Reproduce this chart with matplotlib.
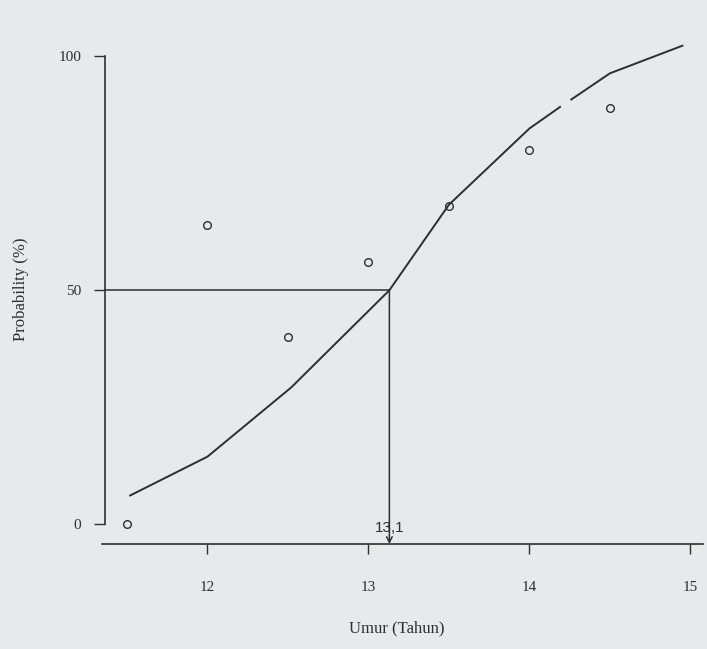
import matplotlib.pyplot as plt

# Observed points (age in years, probability %)
age = [11.5, 12.0, 12.5, 13.0, 13.5, 14.0, 14.5]
prob = [0, 64, 40, 56, 68, 80, 89]

# Fitted curve (drawn in two pieces, there is a gap)
curve_x1 = [11.52, 12.0, 12.52, 13.13, 13.5, 14.0, 14.19]
curve_y1 = [6.1, 14.4, 29.2, 50, 68.3, 84.6, 89.2]
curve_x2 = [14.26, 14.5, 14.95]
curve_y2 = [90.8, 96.4, 102.3]

age50 = 13.13
xticks = [12, 13, 14, 15]
yticks = [0, 50, 100]

paper = "#e8e9ed"
ink = "#2e2e2e"

fig = plt.figure(figsize=(7.07, 6.49), dpi=100, facecolor=paper)
ax = fig.add_axes([0.1443, 0.1618, 0.8505, 0.78])
ax.set_facecolor(paper)

ax.set_xlim(11.345, 15.08)
ax.set_ylim(-4.28, 104)

# curve and points
ax.plot(curve_x1, curve_y1, color=ink, lw=1.4, clip_on=False)
ax.plot(curve_x2, curve_y2, color=ink, lw=1.4, clip_on=False)
ax.plot(age, prob, "o", ms=5.5, mfc="none", mec=ink, mew=1.0, clip_on=False)

# 50% reading lines
ax.plot([11.364, age50], [50, 50], color=ink, lw=1.1)
ax.annotate("", xy=(age50, -4.28), xytext=(age50, 50),
            arrowprops=dict(arrowstyle="->", lw=1.1, color=ink,
                            shrinkA=0, shrinkB=0, mutation_scale=10))
ax.text(age50, -0.8, "13,1", ha="center", va="center", fontsize=11,
        family="Liberation Sans", color=ink)

# axes look
for s in ["top", "right"]:
    ax.spines[s].set_visible(False)
ax.spines["left"].set_position(("data", 11.364))
ax.spines["left"].set_bounds(0, 100)
for s in ["left", "bottom"]:
    ax.spines[s].set_color(ink)
    ax.spines[s].set_linewidth(1.2)

ax.set_xticks(xticks)
ax.set_yticks(yticks)
ax.tick_params(axis="x", direction="out", length=7, width=1, pad=20,
               colors=ink, labelsize=11)
ax.tick_params(axis="y", direction="out", length=8, width=1, pad=9,
               colors=ink, labelsize=11)
for lab in ax.get_xticklabels() + ax.get_yticklabels():
    lab.set_family("Liberation Serif")

ax.set_xlabel("Umur (Tahun)", family="Liberation Serif", fontsize=12, color=ink)
ax.set_ylabel("Probability (%)", family="Liberation Serif", fontsize=12, color=ink)
ax.xaxis.set_label_coords(0.49, -0.150)
ax.yaxis.set_label_coords(-0.121, 0.504)

fig.savefig("out.png", dpi=100, facecolor=paper)
